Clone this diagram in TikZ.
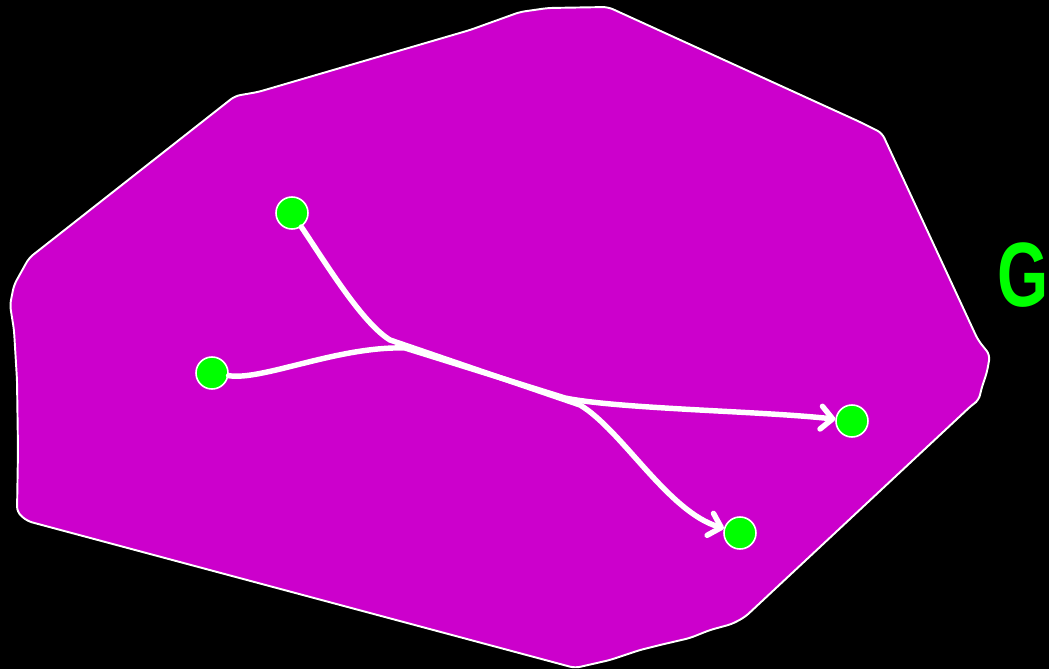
\documentclass[tikz,border=0pt]{standalone}
\usepackage{fontspec}
\setsansfont{Liberation Sans}
\usepackage{tikz}
\usetikzlibrary{arrows.meta,positioning}

\definecolor{blobmag}{HTML}{CC00CC}
\definecolor{dotgreen}{HTML}{00FF00}

\begin{document}
\begin{tikzpicture}[
    x=0.02cm, y=-0.02cm,
    region/.style={fill=blobmag, draw=white, line width=1.1pt, rounded corners=3pt},
    vertex/.style={circle, fill=dotgreen, draw=white, line width=0.9pt, minimum size=0.64cm, inner sep=0pt},
    flow/.style={draw=white, line width=3.1pt, line cap=round,
        -{Straight Barb[length=6.5pt, width=13pt, round]}},
    label/.style={text=dotgreen, inner sep=0pt, xscale=0.72,
        font=\sffamily\bfseries\fontsize{52}{56}\selectfont}
]
\fill[black] (0,0) rectangle (1049,669);
\useasboundingbox (0,0) rectangle (1049,669);

\draw[region] (548,8) -- (608,7) -- (860,122) -- (882,133) -- (978,340) -- (990,355)
    -- (987,372) -- (981,390) -- (979,400) -- (972,405) -- (745,617) -- (732,624)
    -- (710,630) -- (690,638) -- (660,645) -- (640,650) -- (610,660) -- (575,668)
    -- (27,521) -- (17,512) -- (18,450) -- (17,380) -- (14,330) -- (10,305)
    -- (14,285) -- (29,258) -- (235,96) -- (258,92) -- (470,30) -- (520,12) -- cycle;

\node[vertex] (s1) at (292,213) {};
\node[vertex] (s2) at (212,373) {};
\node[vertex] (t1) at (852,421) {};
\node[vertex] (t2) at (740,533) {};

\coordinate (a1) at (390,340);
\coordinate (a2) at (580,405);
\coordinate (b1) at (405,348);
\coordinate (b2) at (565,398);

\draw[flow] (s1) .. controls (325,262) and (362,323) .. (a1) -- (a2)
    .. controls (622,430) and (668,512) .. (t2);
\draw[flow] (s2) .. controls (262,381) and (338,346) .. (b1) -- (b2)
    .. controls (620,409) and (760,411) .. (t1);

\node[label] (G) at (1023,275) {G};
\end{tikzpicture}
\end{document}
